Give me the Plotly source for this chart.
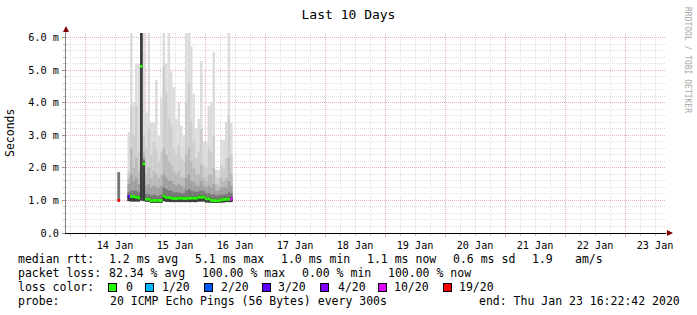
import plotly.graph_objects as go

# ---------------- data (values in milliseconds) ----------------
times = [
    "2020-01-14 13:00",
    "2020-01-14 17:00", "2020-01-14 18:00", "2020-01-14 19:00", "2020-01-14 20:00",
    "2020-01-14 21:00", "2020-01-14 22:00", "2020-01-14 23:00",
    "2020-01-15 00:00", "2020-01-15 01:00", "2020-01-15 02:00", "2020-01-15 03:00",
    "2020-01-15 04:00", "2020-01-15 05:00", "2020-01-15 06:00", "2020-01-15 07:00",
    "2020-01-15 08:00", "2020-01-15 09:00", "2020-01-15 10:00", "2020-01-15 11:00",
    "2020-01-15 12:00", "2020-01-15 13:00", "2020-01-15 14:00", "2020-01-15 15:00",
    "2020-01-15 16:00", "2020-01-15 17:00", "2020-01-15 18:00", "2020-01-15 19:00",
    "2020-01-15 20:00", "2020-01-15 21:00", "2020-01-15 22:00", "2020-01-15 23:00",
    "2020-01-16 00:00", "2020-01-16 01:00", "2020-01-16 02:00", "2020-01-16 03:00",
    "2020-01-16 04:00", "2020-01-16 05:00", "2020-01-16 06:00", "2020-01-16 07:00",
    "2020-01-16 08:00", "2020-01-16 09:00", "2020-01-16 10:00",
]

ping_low = [0.99,
    0.98, 0.97, 0.97, 0.97, 0.97, 1.00, 0.98,
    0.96, 0.96, 0.92, 0.93, 0.93, 0.93, 0.93, 0.98, 0.96, 0.96, 0.95, 0.95,
    0.95, 0.95, 0.95, 0.95, 0.95, 0.95, 0.95, 0.95, 0.95, 0.97, 0.97, 0.97,
    0.94, 0.94, 0.93, 0.93, 0.92, 0.92, 0.94, 0.94, 0.95, 0.95, 0.95]

smoke_l1 = [1.87,
    3.10, 6.30, 4.00, 5.20, 5.20, 6.30, 6.30,
    3.70, 6.30, 3.40, 3.40, 4.70, 3.00, 4.15, 6.30, 5.20, 6.30, 4.96, 4.48,
    3.50, 4.00, 3.30, 3.00, 6.30, 6.30, 5.73, 4.27, 3.20, 3.50, 5.27, 2.80,
    2.80, 3.90, 4.00, 5.55, 1.94, 1.94, 2.86, 2.86, 3.40, 6.30, 3.38]

smoke_l2 = [1.87,
    1.90, 3.90, 3.00, 3.90, 2.50, 6.30, 3.00,
    2.60, 3.20, 2.40, 2.80, 2.60, 2.20, 2.50, 5.10, 4.30, 3.50, 3.30, 2.60,
    2.40, 2.70, 2.30, 2.20, 4.00, 4.60, 3.40, 2.80, 2.30, 2.50, 3.20, 2.10,
    2.00, 2.60, 2.50, 3.00, 1.70, 1.70, 2.10, 2.00, 2.30, 3.60, 2.40]

smoke_l3 = [1.87,
    1.70, 2.60, 2.00, 2.30, 1.90, 6.30, 2.50,
    1.80, 2.00, 1.70, 1.90, 1.80, 1.70, 1.80, 2.60, 2.40, 2.20, 2.10, 1.90,
    1.80, 1.90, 1.70, 1.70, 2.40, 2.60, 2.20, 2.00, 1.80, 1.80, 2.10, 1.70,
    1.60, 1.80, 1.80, 2.00, 1.50, 1.45, 1.70, 1.60, 1.70, 2.30, 1.80]

smoke_l4 = [1.87,
    1.50, 1.80, 1.60, 1.70, 1.50, 6.30, 2.30,
    1.45, 1.50, 1.40, 1.45, 1.40, 1.40, 1.45, 1.80, 1.70, 1.60, 1.60, 1.50,
    1.45, 1.50, 1.45, 1.40, 1.70, 1.80, 1.60, 1.55, 1.45, 1.45, 1.60, 1.45,
    1.40, 1.45, 1.40, 1.50, 1.30, 1.30, 1.40, 1.40, 1.40, 1.60, 1.45]

smoke_l5 = [1.87,
    1.25, 1.30, 1.30, 1.30, 1.25, 6.30, 2.25,
    1.20, 1.20, 1.15, 1.18, 1.15, 1.15, 1.18, 1.40, 1.35, 1.30, 1.30, 1.25,
    1.25, 1.25, 1.22, 1.22, 1.30, 1.35, 1.30, 1.28, 1.25, 1.28, 1.30, 1.28,
    1.22, 1.22, 1.18, 1.20, 1.15, 1.15, 1.18, 1.18, 1.20, 1.25, 1.22]

smoke_l6 = [0.99,
    1.16, 1.16, 1.16, 1.15, 1.12, 6.30, 2.19,
    1.09, 1.09, 1.04, 1.05, 1.05, 1.05, 1.05, 1.19, 1.14, 1.14, 1.12, 1.11,
    1.11, 1.12, 1.12, 1.11, 1.11, 1.12, 1.12, 1.12, 1.12, 1.15, 1.15, 1.15,
    1.10, 1.10, 1.05, 1.05, 1.04, 1.04, 1.07, 1.08, 1.09, 1.09, 1.09]

median_rtt = [1.00,
    1.12, 1.12, 1.12, 1.10, 1.08, 5.12, 2.12,
    1.04, 1.04, 0.99, 1.00, 1.00, 1.00, 1.00, 1.14, 1.09, 1.09, 1.07, 1.06,
    1.06, 1.07, 1.07, 1.06, 1.06, 1.07, 1.07, 1.07, 1.07, 1.10, 1.10, 1.10,
    1.05, 1.05, 1.00, 1.00, 0.99, 0.99, 1.02, 1.03, 1.04, 1.04, 1.04]

loss_of20 = [19,
    3, 0, 0, 0, 0, 0, 0,
    0, 0, 0, 0, 0, 0, 0, 0, 0, 0, 0, 0,
    0, 0, 0, 0, 0, 0, 0, 0, 0, 0, 0, 0,
    0, 0, 0, 0, 0, 0, 0, 0, 0, 0, 10]

loss_levels = [0, 1, 2, 3, 4, 10, 19]
loss_labels = ["0", "1/20", "2/20", "3/20", "4/20", "10/20", "19/20"]
loss_colors = ["#26ff00", "#00b8ff", "#0059ff", "#5e00ff", "#7e00ff", "#dd00ff", "#ff0000"]

y_tickvals = [0, 1, 2, 3, 4, 5, 6]
y_ticktext = ["0.0", "1.0 m", "2.0 m", "3.0 m", "4.0 m", "5.0 m", "6.0 m"]

rtt_stats = ["1.2 ms avg", "5.1 ms max", "1.0 ms min", "1.1 ms now", "0.6 ms sd", "1.9", "am/s"]
loss_stats = ["82.34 % avg", "100.00 % max", "0.00 % min", "100.00 % now"]
probe_text = "20 ICMP Echo Pings (56 Bytes) every 300s"
end_text = "end: Thu Jan 23 16:22:42 2020"

# ---------------- styling / layout constants ----------------
W, H = 697, 315
L, R, T, B = 66, 666, 33, 233
MONO = "DejaVu Sans Mono"
HOUR_MS = 3600 * 1000
smoke_colors = ["#dcdcdc", "#cdcdcd", "#b9b9b9", "#a0a0a0", "#777777", "#3a3a3a"]
MAJOR = "#ebb4b4"
MINOR = "#dedede"


def px(p):
    return (p - L) / (R - L)


def py(p):
    return (B - p) / (B - T)


fig = go.Figure()

for top, col in zip([smoke_l1, smoke_l2, smoke_l3, smoke_l4, smoke_l5, smoke_l6], smoke_colors):
    fig.add_trace(go.Bar(
        x=times, base=ping_low, y=[t - lo for t, lo in zip(top, ping_low)],
        width=HOUR_MS, offset=0,
        marker=dict(color=col, line=dict(width=0)), opacity=1,
        hoverinfo="skip", showlegend=False))

cmap = dict(zip(loss_levels, loss_colors))
MED_H = 0.09
fig.add_trace(go.Bar(
    x=times, base=[m - MED_H / 2 for m in median_rtt], y=[MED_H] * len(median_rtt),
    width=HOUR_MS, offset=0,
    marker=dict(color=[cmap[l] for l in loss_of20], line=dict(width=0)), opacity=1,
    hoverinfo="skip", showlegend=False))

ann = []
TXT = dict(family=MONO, size=11.5, color="black")


def text(s, x, y, xanchor="left", font=TXT):
    ann.append(dict(text=s, x=px(x), y=py(y), xref="paper", yref="paper",
                    xanchor=xanchor, yanchor="middle", showarrow=False, font=font))


# row 1
text("median rtt:", 16.4, 259)
for s, x in zip(rtt_stats, [106.7, 193, 279, 365, 451, 530, 573]):
    text(s, x, 259)
# row 2
text("packet loss:", 16.4, 273)
for s, x in zip(loss_stats, [106.7, 200, 300, 386]):
    text(s, x, 273)
# row 3
text("loss color:", 16.4, 287)
for lab, col, bx, tx in zip(loss_labels, loss_colors,
                            [108, 145.3, 204.4, 262.2, 320, 377.8, 443.1],
                            [123.6, 160, 219, 276.4, 335.6, 392.4, 457]):
    ann.append(dict(text="", x=px(bx), y=py(287), xref="paper", yref="paper",
                    xanchor="left", yanchor="middle", showarrow=False,
                    width=7, height=7, bgcolor=col, bordercolor="black",
                    borderwidth=1, borderpad=0))
    text(lab, tx, 287)
# row 4
text("probe:", 16.4, 301)
text(probe_text, 108, 301)
text(end_text, 682, 301, xanchor="right")

# y unit label
ann.append(dict(text="Seconds", x=px(10), y=py(133), xref="paper", yref="paper",
                xanchor="center", yanchor="middle", textangle=-90, showarrow=False,
                font=dict(family=MONO, size=11.5, color="black")))
# watermark
ann.append(dict(text="RRDTOOL / TOBI OETIKER", x=px(688), y=py(60), xref="paper", yref="paper",
                xanchor="center", yanchor="middle", textangle=90, showarrow=False,
                font=dict(family=MONO, size=8, color="#a8a8a8")))
# axis arrows
ann.append(dict(text="", x=px(673), y=py(B), xref="paper", yref="paper",
                ax=-8, ay=0, showarrow=True, arrowhead=2, arrowsize=1.2,
                arrowwidth=1, arrowcolor="#7f0000"))
ann.append(dict(text="", x=px(L), y=py(26), xref="paper", yref="paper",
                ax=0, ay=8, showarrow=True, arrowhead=2, arrowsize=1.2,
                arrowwidth=1, arrowcolor="#7f0000"))

fig.update_layout(
    width=W, height=H,
    margin=dict(l=L, r=W - R, t=T, b=H - B, pad=0),
    paper_bgcolor="white", plot_bgcolor="white",
    barmode="overlay", showlegend=False,
    font=dict(family=MONO, color="black"),
    title=dict(text="Last 10 Days", x=0.5, xref="container", xanchor="center",
               y=1 - 14 / H, yref="container", yanchor="middle",
               font=dict(family=MONO, size=13, color="black")),
    annotations=ann,
    xaxis=dict(
        type="date", range=["2020-01-13 16:22:42", "2020-01-23 16:22:42"],
        tick0="2020-01-14 00:00", dtick=86400000, tickformat="%d %b",
        ticklabelmode="period", showgrid=True, gridcolor=MAJOR, griddash="1px,1px",
        gridwidth=1, ticks="outside", ticklen=3, tickcolor=MAJOR,
        minor=dict(dtick=6 * HOUR_MS, tick0="2020-01-14 00:00", showgrid=True,
                   gridcolor=MINOR, griddash="1px,1px", gridwidth=1,
                   ticks="outside", ticklen=2, tickcolor="#c4c4c4"),
        showline=True, linecolor="black", linewidth=1, zeroline=False,
        tickfont=dict(family=MONO, size=10.2, color="black"), fixedrange=True),
    yaxis=dict(
        range=[0, 6.14], tickvals=y_tickvals, ticktext=y_ticktext,
        showgrid=True, gridcolor=MAJOR, griddash="1px,1px", gridwidth=1,
        ticks="outside", ticklen=3, tickcolor="#999999",
        minor=dict(dtick=0.2, tick0=0, showgrid=True, gridcolor=MINOR,
                   griddash="1px,1px", gridwidth=1, ticks="outside", ticklen=2,
                   tickcolor="#c4c4c4"),
        showline=True, linecolor="#808080", linewidth=1, zeroline=False,
        ticklabelstandoff=1,
        tickfont=dict(family=MONO, size=10.2, color="black"), fixedrange=True),
)

fig.write_html("out.html")
